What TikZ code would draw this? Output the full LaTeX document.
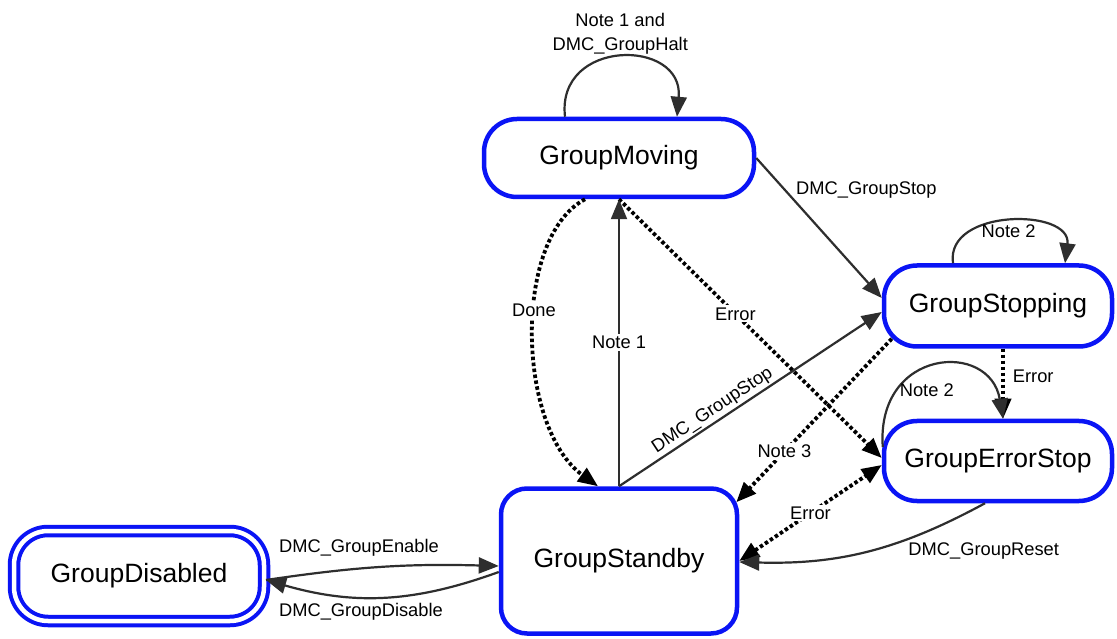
\documentclass[tikz,border=0pt]{standalone}
\usepackage{fontspec}
\setmainfont{Liberation Sans}
\usetikzlibrary{arrows.meta, positioning}
\definecolor{StateBlue}{HTML}{0A14F5}
\definecolor{EdgeGray}{HTML}{2E2E2E}
\newcommand{\statefont}{\fontsize{26.5}{30}\selectfont}
\newcommand{\edgefont}{\fontsize{18.3}{24}\selectfont}
\tikzset{
  statehead/.tip={Triangle[length=20pt, width=16pt]},
  statebox/.style={draw=StateBlue, line width=4.5pt, rounded corners=33pt, fill=white, align=center, inner sep=4pt, font=\statefont},
  initbox/.style={draw=StateBlue, double=white, double distance=4.5pt, line width=4pt, rounded corners=34pt, fill=white, align=center, inner sep=4pt, font=\statefont},
  trans/.style={-statehead, line width=2.2pt, draw=EdgeGray},
  errtrans/.style={-statehead, line width=3.8pt, dash pattern=on 3.5pt off 2.5pt, draw=black},
  edgelabel/.style={font=\edgefont, inner sep=2pt, text=black},
  cutlabel/.style={edgelabel, fill=white}
}

\begin{document}
\begin{tikzpicture}[x=1pt, y=1pt]
\fill[white] (0,0) rectangle (1117,638);
\useasboundingbox (0,0) rectangle (1117,638);

\node[statebox, minimum width=270pt, minimum height=78pt] (moving) at (619,480) {GroupMoving};
\node[statebox, minimum width=228pt, minimum height=81pt] (stopping) at (998,332) {GroupStopping};
\node[statebox, minimum width=228pt, minimum height=80pt] (errorstop) at (998,177) {GroupErrorStop};
\node[statebox, rounded corners=26pt, minimum width=236pt, minimum height=145pt] (standby) at (619,77) {GroupStandby};
\node[initbox, minimum width=250pt, minimum height=90pt] (disabled) at (139,62) {GroupDisabled};

% transitions out of GroupMoving
\draw[trans] ([shift={(-54,0)}]moving.north) .. controls (556,600) and (684,600) .. node[edgelabel, above, align=center] {Note 1 and\\DMC\_GroupHalt} ([shift={(58,0)}]moving.north);
\draw[trans] (moving.east) -- node[edgelabel, pos=0.23, anchor=west, xshift=8pt] {DMC\_GroupStop} ([shift={(0,8)}]stopping.west);
\draw[errtrans] ([shift={(-34,0)}]moving.south) .. controls (512,400) and (517,210) .. node[cutlabel, pos=0.43] {Done} ([shift={(-21,0)}]standby.north);
\draw[errtrans] (moving.south) -- node[cutlabel, pos=0.443] {Error} ([shift={(0,3)}]errorstop.west);

% transitions out of GroupStandby
\draw[trans] (standby.north) -- node[cutlabel, pos=0.5] {Note 1} (moving.south);
\draw[trans] (standby.north) -- node[edgelabel, sloped, above, pos=0.38] {DMC\_GroupStop} ([shift={(0,-6)}]stopping.west);
\draw[errtrans, statehead-statehead] (standby.east) -- node[cutlabel, pos=0.5] {Error} ([shift={(0,-4)}]errorstop.west);
\draw[trans] ([shift={(0,-11)}]standby.west) to[bend left=18] node[edgelabel, pos=1, anchor=north west, shift={(10,-20)}] {DMC\_GroupDisable} ([shift={(0,-4)}]disabled.east);

% GroupStopping and GroupErrorStop
\draw[trans] ([shift={(-45,0)}]stopping.north) .. controls (945,430) and (1072,430) .. node[edgelabel, below] {Note 2} ([shift={(67,0)}]stopping.north);
\draw[errtrans] ([shift={(10,10)}]stopping.south west) -- node[cutlabel, pos=0.69] {Note 3} ([shift={(-3,-16)}]standby.north east);
\draw[errtrans] ([shift={(5,0)}]stopping.south) -- node[edgelabel, pos=0.4, right=6pt] {Error} ([shift={(5,0)}]errorstop.north);
\draw[trans] ([shift={(1,14)}]errorstop.west) .. controls (876,290) and (990,298) .. node[edgelabel, pos=0.45, below=12pt] {Note 2} ([shift={(5,0)}]errorstop.north);
\draw[trans] ([shift={(-13,0)}]errorstop.south) to[bend left=15] node[edgelabel, pos=0.33, anchor=north west] {DMC\_GroupReset} ([shift={(0,-1)}]standby.east);

% GroupDisabled
\draw[trans] ([shift={(0,-4)}]disabled.east) to[bend left=5] node[edgelabel, pos=0, anchor=south west, shift={(10,21)}] {DMC\_GroupEnable} ([shift={(0,-5)}]standby.west);
\end{tikzpicture}
\end{document}
